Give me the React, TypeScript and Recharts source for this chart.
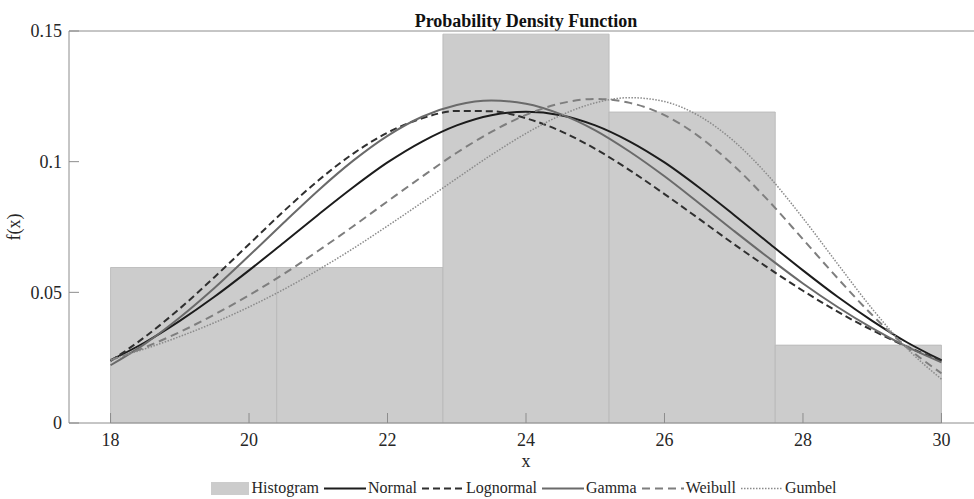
import React from 'react';
import { ComposedChart, Line, XAxis, YAxis, ReferenceArea } from 'recharts';

// x grid the fitted curves were read at
const xValues = [18, 18.5, 19, 19.5, 20, 20.5, 21, 21.5, 22, 22.5, 23, 23.5, 24, 24.5, 25, 25.5, 26, 26.5, 27, 27.5, 28, 28.5, 29, 29.5, 30];

const normalPdf = [0.0240, 0.0309, 0.0391, 0.0483, 0.0584, 0.0690, 0.0797, 0.0901, 0.0997, 0.1077, 0.1139, 0.1178, 0.1191, 0.1178, 0.1139, 0.1077, 0.0997, 0.0901, 0.0797, 0.0690, 0.0584, 0.0483, 0.0391, 0.0309, 0.0240];
const lognormalPdf = [0.0237, 0.0330, 0.0438, 0.0558, 0.0684, 0.0810, 0.0928, 0.1030, 0.1111, 0.1166, 0.1194, 0.1193, 0.1166, 0.1117, 0.1049, 0.0967, 0.0876, 0.0781, 0.0685, 0.0593, 0.0506, 0.0426, 0.0355, 0.0292, 0.0238];
const gammaPdf = [0.0221, 0.0304, 0.0404, 0.0517, 0.0640, 0.0766, 0.0890, 0.1003, 0.1099, 0.1172, 0.1217, 0.1234, 0.1222, 0.1182, 0.1120, 0.1038, 0.0944, 0.0841, 0.0736, 0.0633, 0.0534, 0.0444, 0.0363, 0.0292, 0.0232];
const weibullPdf = [0.0240, 0.0290, 0.0348, 0.0415, 0.0489, 0.0570, 0.0659, 0.0752, 0.0848, 0.0943, 0.1034, 0.1114, 0.1179, 0.1223, 0.1240, 0.1225, 0.1178, 0.1096, 0.0985, 0.0851, 0.0703, 0.0554, 0.0413, 0.0290, 0.0190];
const gumbelPdf = [0.0243, 0.0284, 0.0331, 0.0384, 0.0444, 0.0511, 0.0586, 0.0667, 0.0754, 0.0844, 0.0936, 0.1026, 0.1108, 0.1177, 0.1225, 0.1245, 0.1230, 0.1175, 0.1079, 0.0946, 0.0784, 0.0609, 0.0437, 0.0286, 0.0168];

// histogram bins
const binEdges = [18, 20.4, 22.8, 25.2, 27.6, 30];
const binHeights = [0.0595, 0.0595, 0.1488, 0.1190, 0.0298];

const xTicks = [18, 20, 22, 24, 26, 28, 30];
const yTicks = [0, 0.05, 0.1, 0.15];

const FONT = '"Liberation Serif", "Times New Roman", serif';
const AXIS = '#8c8c8c';
const TEXT = '#262626';

const series = [
    { key: 'normal', name: 'Normal', color: '#1c1c1c', width: 2, dash: undefined },
    { key: 'lognormal', name: 'Lognormal', color: '#2f2f2f', width: 2, dash: '7 4' },
    { key: 'gamma', name: 'Gamma', color: '#6a6a6a', width: 2, dash: undefined },
    { key: 'weibull', name: 'Weibull', color: '#7e7e7e', width: 2, dash: '8 5' },
    { key: 'gumbel', name: 'Gumbel', color: '#8a8a8a', width: 1.5, dash: '1.5 1.5' },
];

const table = xValues.map((x, i) => ({
    x,
    normal: normalPdf[i],
    lognormal: lognormalPdf[i],
    gamma: gammaPdf[i],
    weibull: weibullPdf[i],
    gumbel: gumbelPdf[i],
}));

function LegendRow() {
    return (
        <div style={{
            position: 'absolute', left: 0, top: 480, width: 1052,
            display: 'flex', justifyContent: 'center', alignItems: 'center',
            fontFamily: FONT, fontSize: 16, lineHeight: '16px', color: TEXT,
        }}>
            <svg width={38} height={13} style={{ marginRight: 3 }}>
                <rect x={0} y={0} width={38} height={13} fill="#cccccc" />
            </svg>
            <span style={{ marginRight: 5 }}>Histogram</span>
            {series.map(s => (
                <React.Fragment key={s.key}>
                    <svg width={42} height={13} style={{ marginRight: 2 }}>
                        <line x1={0} y1={6.5} x2={42} y2={6.5} stroke={s.color}
                            strokeWidth={s.width} strokeDasharray={s.dash} />
                    </svg>
                    <span style={{ marginRight: 5 }}>{s.name}</span>
                </React.Fragment>
            ))}
        </div>
    );
}

export default function App() {
    return (
        <div style={{
            position: 'absolute', left: 0, top: 0, width: 974, height: 499,
            overflow: 'hidden', background: '#fff',
        }}>
            <div style={{
                position: 'absolute', left: 0, top: 12, width: 1052, textAlign: 'center',
                fontFamily: FONT, fontSize: 18, lineHeight: '18px', fontWeight: 'bold', color: '#111',
            }}>
                Probability Density Function
            </div>

            <ComposedChart
                width={990}
                height={499}
                data={table}
                margin={{ top: 30, right: 6, bottom: 16, left: 0 }}
            >
                <XAxis
                    xAxisId="bottom"
                    type="number"
                    dataKey="x"
                    domain={[17.4, 30.6]}
                    ticks={xTicks}
                    allowDataOverflow
                    height={60}
                    tickSize={-10}
                    tickMargin={20}
                    stroke={AXIS}
                    tick={{ fill: TEXT, fontSize: 18, fontFamily: FONT }}
                    label={{ value: 'x', position: 'insideBottom', offset: 16, fill: TEXT, fontSize: 18, fontFamily: FONT }}
                />
                <XAxis
                    xAxisId="top"
                    orientation="top"
                    type="number"
                    dataKey="x"
                    domain={[17.4, 30.6]}
                    ticks={xTicks}
                    allowDataOverflow
                    height={1}
                    tickSize={-10}
                    stroke={AXIS}
                    tick={false}
                />
                <YAxis
                    yAxisId="left"
                    type="number"
                    domain={[0, 0.15]}
                    ticks={yTicks}
                    allowDataOverflow
                    width={69}
                    tickSize={-10}
                    tickMargin={17}
                    stroke={AXIS}
                    tick={{ fill: TEXT, fontSize: 18, fontFamily: FONT }}
                    label={{
                        value: 'f(x)', angle: -90, position: 'insideLeft', offset: 14,
                        fill: TEXT, fontSize: 18, fontFamily: FONT, style: { textAnchor: 'middle' },
                    }}
                />
                <YAxis
                    yAxisId="right"
                    orientation="right"
                    type="number"
                    domain={[0, 0.15]}
                    ticks={yTicks}
                    width={1}
                    tickSize={-10}
                    stroke={AXIS}
                    tick={false}
                />

                {binHeights.map((h, i) => (
                    <ReferenceArea
                        key={i}
                        xAxisId="bottom"
                        yAxisId="left"
                        x1={binEdges[i]}
                        x2={binEdges[i + 1]}
                        y1={0}
                        y2={h}
                        fill="#cccccc"
                        fillOpacity={1}
                        stroke="#b6b6b6"
                        strokeWidth={0.8}
                    />
                ))}

                {series.map(s => (
                    <Line
                        key={s.key}
                        xAxisId="bottom"
                        yAxisId="left"
                        type="monotone"
                        dataKey={s.key}
                        name={s.name}
                        stroke={s.color}
                        strokeWidth={s.width}
                        strokeDasharray={s.dash}
                        dot={false}
                        activeDot={false}
                        isAnimationActive={false}
                    />
                ))}
            </ComposedChart>

            <LegendRow />
        </div>
    );
}
